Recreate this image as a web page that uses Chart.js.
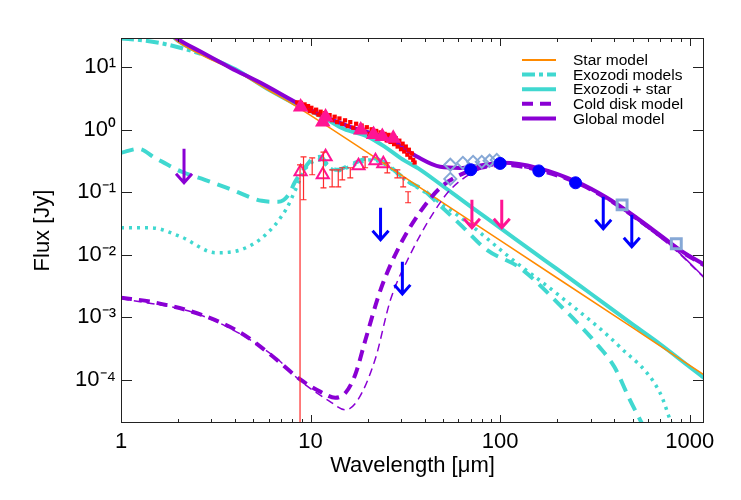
<!DOCTYPE html>
<html>
<head>
<meta charset="utf-8">
<script src="https://cdn.jsdelivr.net/npm/chart.js@4.4.0/dist/chart.umd.min.js"></script>
<style>
html,body{margin:0;padding:0;background:#fff}
</style>
</head>
<body>
<canvas id="sed" width="741" height="500"></canvas>
<script>
// ---- model curves (wavelength in micron, flux in Jy) ----
var starWl   = [1.8,2,2.64,3,4,6,8,10,20,50,100,200,500,1000,1200];
var starFlux = [34,25.5,16,13.2,8.8,4.3,2.6,1.7,0.43,0.068,0.017,0.00425,0.00068,0.00017,0.000118];

var exoStarWl   = [1.8,2,2.64,3,4,6,8,10,12,15,20,25,30,38,50,70,100,150,200,300,500,700,1000,1190];
var exoStarFlux = [35,26.5,16.8,14,9.4,4.4,2.75,2.0,1.5,1.03,0.78,0.52,0.35,0.229,0.125,0.059,0.027,0.011,0.0059,0.0024,0.00077,0.00037,0.00016,0.000107];

var exoDashWl   = [1,1.24,1.51,2.09,2.77,3.84,5.53,6.77,7.66,8.23,9.18,10.1,11.3,12.3,13.8,16.2,20.7,24.2,28.7,33.5,39.3,46.6,63.5,85,127,206,335,401,480,560];
var exoDashFlux = [0.43,0.497,0.356,0.213,0.158,0.11,0.0731,0.0705,0.0912,0.142,0.229,0.331,0.37,0.275,0.229,0.275,0.356,0.308,0.205,0.142,0.11,0.068,0.028,0.012,0.0062,0.00158,0.00033,0.00016,0.00005,0.00002];

var exoDotWl   = [1,1.44,2.07,3.16,4.28,5.79,7.4,8.33,9.18,10.1,11.3,12.3,13.8,16.2,20.7,24.2,28.7,33.5,39.3,44.3,69.6,113,206,426,697,800];
var exoDotFlux = [0.027,0.027,0.0194,0.0108,0.012,0.0209,0.0525,0.11,0.213,0.3,0.33,0.26,0.22,0.26,0.33,0.29,0.2,0.14,0.105,0.0817,0.0302,0.00895,0.0022,0.00034,0.000062,0.00002];

var exoDdWl   = [1,1.3,1.72,2.2,2.64];
var exoDdFlux = [29,27,23.5,19.5,16.5];

var coldWl   = [1,1.44,2.64,4.28,6.16,8.86,11.3,13.5,15.3,17.2,19.5,23.4,29.7,37.9,48.3,61.5,78.5,104,157,254,366,526,695,886,1200];
var coldFlux = [0.00205,0.00177,0.0011,0.000565,0.000251,0.0001,0.000064,0.0000515,0.000062,0.00012,0.00044,0.00275,0.0145,0.0488,0.118,0.19,0.246,0.275,0.229,0.142,0.079,0.038,0.0203,0.0117,0.0067];

var cold2Wl   = [1,2.64,6.4,8.86,12.5,15.3,17.8,21.9,26.4,33.5,42.8,54.6,78.5,104,157,254,366,546,814,1200];
var cold2Flux = [0.002,0.00108,0.00024,0.000095,0.000046,0.000033,0.000048,0.00021,0.0019,0.01,0.039,0.11,0.235,0.27,0.225,0.14,0.078,0.033,0.013,0.0042];

var globalWl   = [1.8,1.95,2.64,3.79,5.45,8.86,11.3,16.2,26.4,36.6,48.3,61.5,80,104,157,254,366,526,695,886,1200];
var globalFlux = [36,29.6,17.7,9.8,5.65,2.51,1.74,1.12,0.69,0.37,0.256,0.246,0.27,0.296,0.246,0.147,0.0817,0.039,0.0209,0.012,0.0069];

var global2Wl   = [1.8,1.95,2.64,3.79,5.45,8.86,11.3,16.2,26.4,36.6,48.3,61.5,80,104,157,254,366,546,814,1200];
var global2Flux = [36,29.6,17.7,9.8,5.65,2.51,1.74,1.12,0.69,0.37,0.256,0.246,0.27,0.296,0.246,0.147,0.0817,0.0337,0.0134,0.00428];

// ---- observations ----
var specWl   = [8.5,8.7,8.9,9.1,9.3,9.5,9.7,9.9,10.1,10.4,10.7,11.0,11.3,11.6,11.9,12.2,12.6,13.0,13.4,13.8,14.2,14.7,15.2,15.7,16.2,16.8,17.4,18.0,18.6,19.2,19.8,20.4,21.0,21.6,22.2,22.8,23.4,24.0,24.6,25.2,25.8,26.4,27.0,27.6,28.2,28.8,29.4,30.0,30.6,31.2,31.8,32.4,33.0,33.6,34.2,34.8,35.4];
var specFlux = [2.75,2.45,2.7,2.3,2.55,2.15,2.4,2.0,2.25,1.9,2.1,1.75,1.95,1.65,1.85,1.55,1.72,1.43,1.62,1.33,1.52,1.25,1.42,1.15,1.33,1.08,1.25,1.0,1.17,0.93,1.1,0.86,1.02,0.8,0.96,0.76,0.91,0.72,0.86,0.68,0.83,0.64,0.78,0.59,0.73,0.54,0.67,0.49,0.6,0.45,0.54,0.4,0.48,0.36,0.42,0.33,0.3];

var photUpWl   = [8.86,11.6,12.0,18.4,21.5,23.9,27.3];
var photUpFlux = [2.33,1.34,1.61,0.99,0.84,0.78,0.73];

var excessWl   = [8.86,12.0,11.6,17.9,22.0,24.2];
var excessFlux = [0.213,0.37,0.191,0.265,0.319,0.286];

var errWl = [8.8,9.18,10.2,11.7,13.0,14.0,14.7,16.2,19.4,25.4,28.7,30.8,32.7];
var errLo = [1e-9,0.076,0.191,0.118,0.122,0.122,0.158,0.17,0.247,0.205,0.17,0.122,0.068];
var errHi = [0.275,0.37,0.355,0.44,0.229,0.229,0.247,0.247,0.37,0.296,0.229,0.17,0.102];

var farIrWl   = [54.6,54.6,63.6,72,80,88,96];
var farIrFlux = [0.276,0.164,0.296,0.307,0.307,0.32,0.33];

var pacsWl   = [70,100,160,250];
var pacsFlux = [0.23,0.29,0.22,0.142];

var subWl   = [440,850];
var subFlux = [0.063,0.015];

// upper limits (arrows)
var ulPurpleWl = [2.15], ulPurpleFlux = [0.5];
var ulPinkWl   = [71,102], ulPinkFlux = [0.076,0.076];
var ulBlueWl   = [23.4,30.5,350,495], ulBlueFlux = [0.0565,0.0077,0.0847,0.0436];

// axes
var xMajor = [1,10,100,1000];
var yMajor = [1e-4,1e-3,1e-2,1e-1,1,10];
var yMajorText = ['10\u207B\u2074','10\u207B\u00B3','10\u207B\u00B2','10\u207B\u00B9','10\u2070','10\u00B9'];

var legendLabels = ['Star model','Exozodi models','Exozodi + star','Cold disk model','Global model'];

var ORANGE = '#ff8a00', CYAN = '#40d8d0', PURPLE = '#8a00d4', PINK = '#ff1493',
    RED = '#ff2a2a', BLUE = '#0000ff', STEEL = '#86a8d6';

function pts(xs, ys){ return xs.map(function(x,i){ return {x:x, y:ys[i]}; }); }

function lineSet(label, xs, ys, color, width, dash){
  return {label:label, data:pts(xs,ys), showLine:true, borderColor:color, borderWidth:width,
    borderDash:dash||[], pointRadius:0, fill:false, tension:0.35, cubicInterpolationMode:'monotone'};
}

var sedDecor = {
  id:'sedDecor',
  afterDatasetsDraw: function(chart){
    var ctx = chart.ctx, a = chart.chartArea, xs = chart.scales.x, ys = chart.scales.y;
    ctx.save();
    ctx.beginPath(); ctx.rect(a.left, a.top, a.right-a.left, a.bottom-a.top); ctx.clip();
    // error bars
    ctx.strokeStyle = RED; ctx.lineWidth = 1.2;
    for (var i=0;i<errWl.length;i++){
      var x = xs.getPixelForValue(errWl[i]);
      var y1 = Math.min(ys.getPixelForValue(errLo[i]), a.bottom+5);
      var y2 = ys.getPixelForValue(errHi[i]);
      ctx.beginPath();
      ctx.moveTo(x,y1); ctx.lineTo(x,y2);
      ctx.moveTo(x-3,y2); ctx.lineTo(x+3,y2);
      if (y1 < a.bottom){ ctx.moveTo(x-3,y1); ctx.lineTo(x+3,y1); }
      ctx.stroke();
    }
    // arrows
    function arrows(wl, fl, color, len){
      ctx.strokeStyle = color; ctx.lineWidth = 3; ctx.lineCap = 'butt';
      for (var k=0;k<wl.length;k++){
        var ax = xs.getPixelForValue(wl[k]);
        var ay = ys.getPixelForValue(fl[k]);
        ctx.beginPath();
        ctx.moveTo(ax, ay); ctx.lineTo(ax, ay+len);
        ctx.moveTo(ax-8, ay+len-9); ctx.lineTo(ax, ay+len); ctx.lineTo(ax+8, ay+len-9);
        ctx.stroke();
      }
    }
    arrows(ulPurpleWl, ulPurpleFlux, PURPLE, 34);
    arrows(ulPinkWl, ulPinkFlux, PINK, 28);
    arrows(ulBlueWl, ulBlueFlux, BLUE, 32);
    ctx.restore();

    // frame and inward ticks
    ctx.save();
    ctx.strokeStyle = '#222'; ctx.lineWidth = 1;
    ctx.strokeRect(a.left+0.5, a.top+0.5, a.right-a.left-1, a.bottom-a.top-1);
    ctx.beginPath();
    for (var d=0; d<4; d++){
      for (var m=1; m<10; m++){
        var v = m*Math.pow(10,d);
        if (v > xs.max) break;
        var tx = Math.round(xs.getPixelForValue(v))+0.5;
        var tl = (m===1) ? 8 : 4;
        ctx.moveTo(tx, a.bottom); ctx.lineTo(tx, a.bottom-tl);
        ctx.moveTo(tx, a.top); ctx.lineTo(tx, a.top+tl);
      }
    }
    yMajor.forEach(function(v){
      var ty = Math.round(ys.getPixelForValue(v))+0.5;
      ctx.moveTo(a.left, ty); ctx.lineTo(a.left+11, ty);
      ctx.moveTo(a.right, ty); ctx.lineTo(a.right-11, ty);
    });
    ctx.stroke();
    ctx.restore();

    // legend
    ctx.save();
    var styles = [
      {c:ORANGE, w:2, d:[]},
      {c:CYAN, w:4, d:[13,4,4,4]},
      {c:CYAN, w:4, d:[]},
      {c:PURPLE, w:4, d:[11,7]},
      {c:PURPLE, w:4, d:[]}
    ];
    ctx.font = '15.5px "Liberation Sans", Arial, sans-serif';
    ctx.textBaseline = 'middle';
    ctx.fillStyle = '#000';
    for (var r=0;r<legendLabels.length;r++){
      var ly = 60 + r*14.6;
      ctx.strokeStyle = styles[r].c; ctx.lineWidth = styles[r].w; ctx.setLineDash(styles[r].d);
      ctx.beginPath(); ctx.moveTo(522, ly); ctx.lineTo(556, ly); ctx.stroke();
      ctx.setLineDash([]);
      ctx.fillText(legendLabels[r], 573, ly+1);
    }
    ctx.restore();
  }
};

var datasets = [
  {label:'PACS', data:pts(pacsWl,pacsFlux), pointStyle:'circle', pointRadius:6, backgroundColor:BLUE, borderColor:BLUE, borderWidth:1},
  {label:'sub-mm', data:pts(subWl,subFlux), pointStyle:'rect', pointRadius:7, backgroundColor:'rgba(0,0,0,0)', borderColor:STEEL, borderWidth:3},
  {label:'MIPS SED', data:pts(farIrWl,farIrFlux), pointStyle:'rectRot', pointRadius:6, backgroundColor:'rgba(0,0,0,0)', borderColor:STEEL, borderWidth:2},
  {label:'excess', data:pts(excessWl,excessFlux), pointStyle:'triangle', pointRadius:7, backgroundColor:'rgba(0,0,0,0)', borderColor:PINK, borderWidth:2},
  {label:'phot', data:pts(photUpWl,photUpFlux), pointStyle:'triangle', pointRadius:7, backgroundColor:PINK, borderColor:PINK, borderWidth:2},
  {label:'IRS', data:pts(specWl,specFlux), pointStyle:'rect', pointRadius:3, backgroundColor:'#ff0000', borderColor:'#ff0000', borderWidth:0},
  lineSet('Global model', globalWl, globalFlux, PURPLE, 4),
  lineSet('Global model 2', global2Wl, global2Flux, PURPLE, 1.5),
  lineSet('Cold disk model', coldWl, coldFlux, PURPLE, 4, [11,7]),
  lineSet('Cold disk model 2', cold2Wl, cold2Flux, PURPLE, 1.5, [8,5]),
  lineSet('Star model', starWl, starFlux, ORANGE, 1.5),
  lineSet('Exozodi + star', exoStarWl, exoStarFlux, CYAN, 4),
  lineSet('Exozodi models', exoDdWl, exoDdFlux, CYAN, 4, [13,4,4,4]),
  lineSet('Exozodi dashed', exoDashWl, exoDashFlux, CYAN, 4, [13,8]),
  lineSet('Exozodi dotted', exoDotWl, exoDotFlux, CYAN, 3.5, [3,5])
];

var FONT = '"Liberation Sans", Arial, sans-serif';

new Chart(document.getElementById('sed'), {
  type:'scatter',
  data:{datasets:datasets},
  options:{
    responsive:false,
    animation:false,
    devicePixelRatio:1,
    layout:{padding:{top:38, right:37, left:0, bottom:0}},
    plugins:{legend:{display:false}, tooltip:{enabled:false}},
    scales:{
      x:{
        type:'logarithmic', position:'bottom', min:1, max:1190,
        grid:{display:false, drawTicks:false}, border:{display:false},
        afterBuildTicks:function(s){ s.ticks = xMajor.map(function(v){ return {value:v}; }); },
        afterFit:function(s){ s.height = 77; },
        ticks:{color:'#000', font:{family:FONT, size:22}, padding:6, maxRotation:0, autoSkip:false,
          callback:function(v){ return String(v); }},
        title:{display:true, text:'Wavelength [\u03BCm]', color:'#000', font:{family:FONT, size:22, lineHeight:1.2}, padding:{top:0, bottom:21}}
      },
      y:{
        type:'logarithmic', position:'left', min:2.03e-5, max:29.5,
        grid:{display:false, drawTicks:false}, border:{display:false},
        afterBuildTicks:function(s){ s.ticks = yMajor.map(function(v){ return {value:v}; }); },
        afterFit:function(s){ s.width = 121; },
        ticks:{color:'#000', font:{family:FONT, size:22}, padding:5, autoSkip:false,
          callback:function(v){
            for (var i=0;i<yMajor.length;i++){ if (Math.abs(Math.log10(v)-Math.log10(yMajor[i]))<1e-6) return yMajorText[i]; }
            return '';
          }},
        title:{display:true, text:'Flux [Jy]', color:'#000', font:{family:FONT, size:22, lineHeight:1.2}, padding:{top:30, bottom:0}}
      }
    }
  },
  plugins:[sedDecor]
});
</script>
</body>
</html>
